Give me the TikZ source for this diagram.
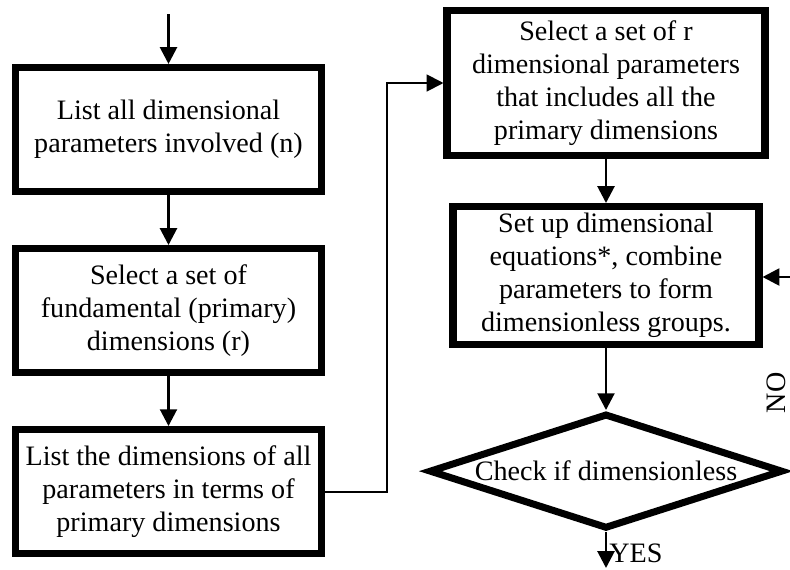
\documentclass[tikz,border=0pt]{standalone}
\usepackage{fontspec}
\setmainfont{Liberation Serif}
\usetikzlibrary{arrows.meta, shapes.geometric, positioning}

\begin{document}
\begin{tikzpicture}[node distance=1.25cm,
                procbox/.style={draw, line width=5pt, minimum width=7.65cm,
                              minimum height=3.1cm, align=center, inner sep=2pt,
                              font=\fontsize{20}{23.5}\selectfont},
                decision/.style={draw, diamond, line width=5pt, aspect=3.18,
                              minimum width=8.85cm, minimum height=2.88cm,
                              inner xsep=-0.4cm, inner ysep=0pt,
                              font=\fontsize{20}{23.5}\selectfont},
                flow/.style={-{Triangle[length=0.42cm, width=0.42cm]}, line width=2pt}]
                \useasboundingbox (0,0) rectangle (19.75,-14.225);
                % left column
                \coordinate (start) at (4.2125,-0.35);
                \node[procbox] (list) at (4.2125,-3.2375)
                      {List all dimensional\\ parameters involved (n)};
                \node[procbox, below=of list] (prim)
                      {Select a set of\\ fundamental (primary)\\ dimensions (r)};
                \node[procbox, below=of prim] (dims)
                      {List the dimensions of all\\ parameters in terms of\\ primary dimensions};
                % right column
                \node[procbox, minimum width=7.95cm, minimum height=3.625cm] (rset)
                      at (15.15,-2.075)
                      {Select a set of r\\ dimensional parameters\\ that includes all the\\ primary dimensions};
                \node[procbox, minimum height=3.45cm, below=1.1cm of rset] (groups)
                      {Set up dimensional\\ equations*, combine\\ parameters to form\\ dimensionless groups.};
                \node[decision, below=1.55cm of groups] (check) {Check if dimensionless};
                \coordinate (edge) at (19.75,-6.925);
                \coordinate (bottom) at (0,-14.2);
                \node[rotate=90, font=\fontsize{20}{23.5}\selectfont] (no) at (19.42,-9.82) {NO};

                \draw[flow] (start) -- (list);
                \draw[flow] (list) -- (prim);
                \draw[flow] (prim) -- (dims);
                \draw[-{Triangle[length=0.42cm, width=0.42cm]}, line width=1.4pt]
                      (dims.east) -- ++(1.55cm,0) |- (rset.west);
                \draw[flow] (rset) -- (groups);
                \draw[flow] (groups) -- (check);
                \draw[flow] (edge) -- (groups.east |- edge);
                \draw[flow] (check.south) -- (check.south |- bottom)
                      node[pos=0.6, right=-2pt, font=\fontsize{20}{23.5}\selectfont] (yes) {YES};
            \end{tikzpicture}
\end{document}
